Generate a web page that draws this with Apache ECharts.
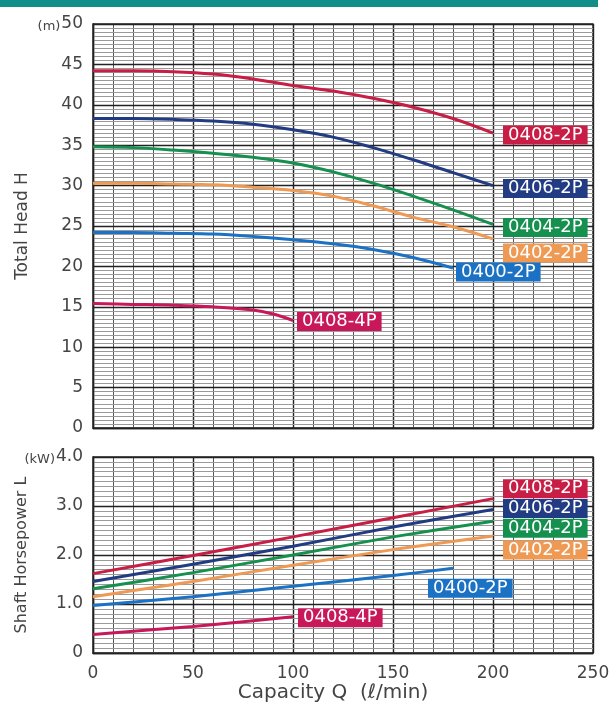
<!DOCTYPE html>
<html>
<head>
<meta charset="utf-8">
<title>Pump performance curves</title>
<script src="https://cdn.jsdelivr.net/npm/echarts@6/dist/echarts.min.js"></script>
<style>
  html, body { margin: 0; padding: 0; background: #ffffff; }
  #chart { width: 611px; height: 704px; }
</style>
</head>
<body>
<div id="chart"></div>
<script>
// ---- Head curves (Total Head H, m) against capacity (ℓ/min) ----
const capacity = [0, 20, 40, 60, 80, 100, 120, 140, 160, 180, 200];
const capacity0400 = [0, 20, 40, 60, 80, 100, 120, 140, 160, 180];
const capacity4P = [0, 20, 40, 60, 80, 90, 100];

const head0408_2P = [44.2, 44.2, 44.1, 43.8, 43.2, 42.4, 41.7, 40.8, 39.7, 38.3, 36.5];
const head0406_2P = [38.3, 38.3, 38.2, 38.0, 37.6, 36.9, 36.0, 34.7, 33.2, 31.6, 30.0];
const head0404_2P = [34.8, 34.7, 34.4, 34.0, 33.5, 32.8, 31.7, 30.3, 28.7, 27.0, 25.2];
const head0402_2P = [30.3, 30.3, 30.2, 30.1, 29.8, 29.4, 28.7, 27.5, 26.1, 24.9, 23.4];
const head0400_2P = [24.2, 24.2, 24.1, 24.0, 23.7, 23.3, 22.8, 22.1, 21.1, 19.8];
const head0408_4P = [15.4, 15.3, 15.2, 15.0, 14.6, 14.1, 13.3];

// ---- Shaft horsepower curves (L, kW) against capacity (ℓ/min) ----
const powerCapacity = [0, 50, 100, 150, 200];
const powerCapacity0400 = [0, 50, 100, 150, 180];
const powerCapacity4P = [0, 50, 100];

const power0408_2P = [1.62, 1.99, 2.37, 2.76, 3.15];
const power0406_2P = [1.46, 1.81, 2.18, 2.57, 2.93];
const power0404_2P = [1.31, 1.64, 2.00, 2.37, 2.69];
const power0402_2P = [1.15, 1.46, 1.79, 2.11, 2.39];
const power0400_2P = [0.97, 1.15, 1.36, 1.58, 1.73];
const power0408_4P = [0.38, 0.54, 0.74];

const models = ['0408-2P', '0406-2P', '0404-2P', '0402-2P', '0400-2P', '0408-4P'];

// ---- styling ----
const FONT = 'DejaVu Sans';
const TEXT = '#444';
const lineColors = {
  '0408-2P': '#c81d45', '0406-2P': '#223c84', '0404-2P': '#15904f',
  '0402-2P': '#ee9a55', '0400-2P': '#1b72c4', '0408-4P': '#c8185a'
};
// label placement relative to the curve end (dx, dy in px)
const headLabelOffset = {
  '0408-2P': [10, 2], '0406-2P': [10, 3], '0404-2P': [10, 3],
  '0402-2P': [10, 14], '0400-2P': [3, 4], '0408-4P': [4, 1]
};
const powerLabelOffset = {
  '0408-2P': [10, -10], '0406-2P': [10, -1], '0404-2P': [10, 7],
  '0402-2P': [10, 14], '0400-2P': [-25, 20], '0408-4P': [5, 1]
};

const pairs = (xs, ys) => xs.map((x, i) => [x, ys[i]]);

function curve(name, xs, ys, xAxisIndex, yAxisIndex, offset, smooth) {
  const c = lineColors[name];
  return {
    name: name,
    type: 'line',
    xAxisIndex: xAxisIndex,
    yAxisIndex: yAxisIndex,
    data: pairs(xs, ys),
    smooth: smooth,
    showSymbol: false,
    symbol: 'none',
    z: 5,
    lineStyle: { color: c, width: 3 },
    itemStyle: { color: c },
    endLabel: {
      show: true,
      formatter: name,
      distance: 0,
      offset: offset,
      align: 'left',
      verticalAlign: 'middle',
      color: '#ffffff',
      backgroundColor: c,
      fontFamily: FONT,
      fontSize: 18,
      lineHeight: 17,
      padding: [1, 5, 1, 5]
    },
    emphasis: { disabled: true }
  };
}

const headSeries = [
  curve('0408-2P', capacity, head0408_2P, 0, 0, headLabelOffset['0408-2P'], 0.35),
  curve('0406-2P', capacity, head0406_2P, 0, 0, headLabelOffset['0406-2P'], 0.35),
  curve('0404-2P', capacity, head0404_2P, 0, 0, headLabelOffset['0404-2P'], 0.35),
  curve('0402-2P', capacity, head0402_2P, 0, 0, headLabelOffset['0402-2P'], 0.35),
  curve('0400-2P', capacity0400, head0400_2P, 0, 0, headLabelOffset['0400-2P'], 0.35),
  curve('0408-4P', capacity4P, head0408_4P, 0, 0, headLabelOffset['0408-4P'], 0.35)
];
const powerSeries = [
  curve('0408-2P', powerCapacity, power0408_2P, 1, 2, powerLabelOffset['0408-2P'], 0.2),
  curve('0406-2P', powerCapacity, power0406_2P, 1, 2, powerLabelOffset['0406-2P'], 0.2),
  curve('0404-2P', powerCapacity, power0404_2P, 1, 2, powerLabelOffset['0404-2P'], 0.2),
  curve('0402-2P', powerCapacity, power0402_2P, 1, 2, powerLabelOffset['0402-2P'], 0.2),
  curve('0400-2P', powerCapacity0400, power0400_2P, 1, 2, powerLabelOffset['0400-2P'], 0.2),
  curve('0408-4P', powerCapacity4P, power0408_4P, 1, 2, powerLabelOffset['0408-4P'], 0.2)
];

const MAJOR = { color: '#222222', width: 1.4 };
const MID = { color: '#555555', width: 1 };
const MINOR = { color: '#9a9a9a', width: 1 };

function capacityAxis(gridIndex, showLabels) {
  return {
    type: 'value', gridIndex: gridIndex, min: 0, max: 250, interval: 50,
    axisLine: { show: true, lineStyle: { color: '#222222', width: 1.4 } },
    axisTick: { show: false },
    minorTick: { show: false, splitNumber: 5 },
    splitLine: { show: true, lineStyle: MAJOR },
    minorSplitLine: { show: true, lineStyle: MID },
    axisLabel: {
      show: showLabels, color: TEXT, fontFamily: FONT, fontSize: 17, margin: 12
    },
    name: showLabels ? 'Capacity Q  (ℓ/min)' : '',
    nameLocation: 'middle',
    nameGap: 30,
    nameTextStyle: { color: TEXT, fontFamily: FONT, fontSize: 20, padding: [0, 20, 0, 0] },
    z: 2
  };
}

const gridBase = {
  left: 93, right: 18, show: true, borderColor: '#222222', borderWidth: 1.4,
  backgroundColor: '#ffffff', containLabel: false, outerBoundsMode: 'none'
};

const option = {
  backgroundColor: '#ffffff',
  animation: false,
  graphic: [
    { type: 'rect', left: 0, top: 0, shape: { width: 598, height: 7 }, style: { fill: '#0f8f87' } }
  ],
  grid: [
    Object.assign({}, gridBase, { top: 24, height: 404 }),
    Object.assign({}, gridBase, { top: 457, height: 196 })
  ],
  xAxis: [capacityAxis(0, false), capacityAxis(1, true)],
  yAxis: [
    {
      type: 'value', gridIndex: 0, min: 0, max: 50, interval: 5, position: 'left',
      axisLine: { show: true, lineStyle: { color: '#222222', width: 1.4 } },
      axisTick: { show: false },
      minorTick: { show: false, splitNumber: 10 },
      splitLine: { show: true, lineStyle: MAJOR },
      minorSplitLine: { show: true, lineStyle: MINOR },
      axisLabel: {
        color: TEXT, fontFamily: FONT, fontSize: 17, margin: 10,
        formatter: v => (v === 50 ? '{u|(m)}' + v : String(v)),
        rich: { u: { fontFamily: FONT, fontSize: 13, color: TEXT, padding: [5, 1, 0, 0] } }
      },
      name: 'Total Head H', nameLocation: 'middle', nameGap: 62, nameMoveOverlap: false,
      nameTextStyle: { color: TEXT, fontFamily: FONT, fontSize: 17 },
      z: 3
    },
    {
      type: 'value', gridIndex: 0, min: 0, max: 50, interval: 1, position: 'left', offset: 0,
      axisLine: { show: false }, axisTick: { show: false }, axisLabel: { show: false },
      splitLine: { show: true, lineStyle: MID },
      z: 1
    },
    {
      type: 'value', gridIndex: 1, min: 0, max: 4, interval: 1, position: 'left',
      axisLine: { show: true, lineStyle: { color: '#222222', width: 1.4 } },
      axisTick: { show: false },
      minorTick: { show: false, splitNumber: 10 },
      splitLine: { show: true, lineStyle: MAJOR },
      minorSplitLine: { show: true, lineStyle: MINOR },
      axisLabel: {
        color: TEXT, fontFamily: FONT, fontSize: 17, margin: 10,
        formatter: v => (v === 0 ? '0' : (v === 4 ? '{u|(kW)}' : '') + v.toFixed(1)),
        rich: { u: { fontFamily: FONT, fontSize: 13, color: TEXT, padding: [5, 1, 0, 0] } }
      },
      name: 'Shaft Horsepower L', nameLocation: 'middle', nameGap: 63, nameMoveOverlap: false,
      nameTextStyle: { color: TEXT, fontFamily: FONT, fontSize: 16 },
      z: 3
    },
    {
      type: 'value', gridIndex: 1, min: 0, max: 4, interval: 0.2, position: 'left', offset: 0,
      axisLine: { show: false }, axisTick: { show: false }, axisLabel: { show: false },
      splitLine: { show: true, lineStyle: MID },
      z: 1
    }
  ],
  series: headSeries.concat(powerSeries)
};

const chart = echarts.init(document.getElementById('chart'), null, { renderer: 'canvas' });
chart.setOption(option);
</script>
</body>
</html>
